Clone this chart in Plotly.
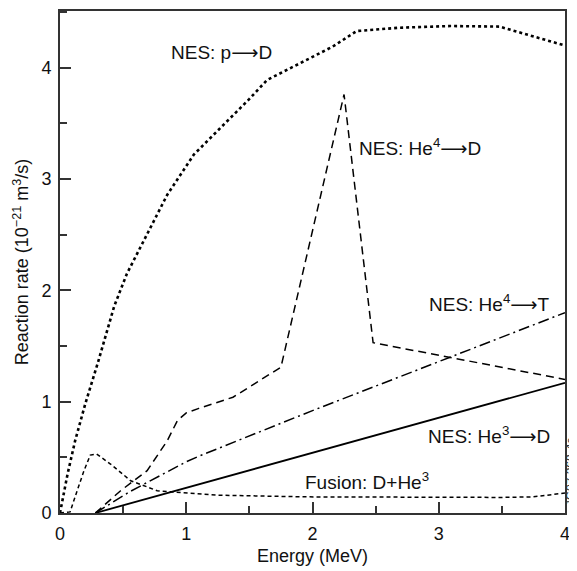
import plotly.graph_objects as go

# p -> D (dotted)
pD_x = [0, 0.06, 0.12, 0.2, 0.3, 0.43, 0.53, 0.69, 0.85, 1.06, 1.32, 1.5, 1.64, 1.9, 2.16, 2.35, 2.69, 3.09, 3.48, 4.0]
pD_y = [0, 0.35, 0.65, 0.98, 1.35, 1.86, 2.15, 2.5, 2.86, 3.22, 3.51, 3.72, 3.89, 4.04, 4.19, 4.33, 4.36, 4.375, 4.37, 4.2]

# He4 -> D (long dash)
he4D_x = [0.28, 0.48, 0.69, 0.85, 0.93, 1.0, 1.1, 1.37, 1.75, 2.25, 2.48, 4.0]
he4D_y = [0.0, 0.2, 0.38, 0.65, 0.83, 0.9, 0.94, 1.04, 1.31, 3.76, 1.53, 1.2]

# He4 -> T (dash-dot)
he4T_x = [0.28, 0.55, 1.0, 1.1, 2.0, 2.69, 3.0, 4.0]
he4T_y = [0.0, 0.19, 0.46, 0.51, 0.92, 1.22, 1.36, 1.8]

# He3 -> D (solid)
he3D_x = [0.28, 4.0]
he3D_y = [0.0, 1.17]

# Fusion D+He3 (short dash)
fus_x = [0, 0.08, 0.13, 0.19, 0.24, 0.29, 0.4, 0.56, 0.77, 1.03, 1.25, 1.94, 2.69, 3.5, 3.75, 4.0]
fus_y = [0, 0.01, 0.18, 0.38, 0.52, 0.53, 0.44, 0.29, 0.2, 0.18, 0.16, 0.145, 0.14, 0.14, 0.145, 0.18]

ARROW = '<span style="font-family:DejaVu Sans">⟶</span>'
labels = ["NES: p" + ARROW + "D", "NES: He<sup>4</sup>" + ARROW + "D", "NES: He<sup>4</sup>" + ARROW + "T",
          "NES: He<sup>3</sup>" + ARROW + "D", "Fusion: D+He<sup>3</sup>"]
label_x = [1.28, 2.85, 3.40, 3.40, 2.43]
label_y = [4.14, 3.29, 1.89, 0.70, 0.29]

x_ticks = [0, 1, 2, 3, 4]
y_ticks = [0, 1, 2, 3, 4]

FONT = "Liberation Sans, Arial"
fig = go.Figure()
black = "#000000"
fig.add_trace(go.Scatter(x=pD_x, y=pD_y, mode="lines",
                         line=dict(color=black, width=2.6, dash="dot")))
fig.add_trace(go.Scatter(x=he4D_x, y=he4D_y, mode="lines",
                         line=dict(color=black, width=1.5, dash="8px,5px")))
fig.add_trace(go.Scatter(x=he4T_x, y=he4T_y, mode="lines",
                         line=dict(color=black, width=1.5, dash="11px,4px,2px,4px")))
fig.add_trace(go.Scatter(x=he3D_x, y=he3D_y, mode="lines",
                         line=dict(color=black, width=1.8)))
fig.add_trace(go.Scatter(x=fus_x, y=fus_y, mode="lines",
                         line=dict(color=black, width=1.5, dash="4px,3px")))

for t, x, y in zip(labels, label_x, label_y):
    fig.add_annotation(x=x, y=y, text=t, showarrow=False,
                       font=dict(size=19, color="#111", family=FONT))

fig.add_annotation(xref="paper", yref="paper", x=1.0119, y=0.081,
                   text="JG07.268-4c", showarrow=False, textangle=-90,
                   xanchor="center", yanchor="middle",
                   font=dict(size=12, color="#333", family=FONT))

axis_common = dict(showgrid=False, zeroline=False, showline=True, linecolor="#333",
                   linewidth=2, mirror=True, ticks="inside", ticklen=11, tickwidth=1.5,
                   tickcolor="#333", ticklabelstandoff=3,
                   tickfont=dict(size=18, color="#111", family=FONT),
                   minor=dict(ticks="inside", ticklen=7, tickwidth=1.5, tickcolor="#333", dtick=0.5))

fig.update_xaxes(range=[0, 4], tickvals=x_ticks, ticktext=[str(v) for v in x_ticks],
                 title=dict(text="Energy (MeV)", standoff=7,
                            font=dict(size=18, color="#111", family=FONT)),
                 **axis_common)
fig.update_yaxes(range=[0, 4.51], tickvals=y_ticks, ticktext=[str(v) for v in y_ticks],
                 title=dict(text="Reaction rate (10<sup>−21</sup> m<sup>3</sup>/s)", standoff=8,
                            font=dict(size=18, color="#111", family=FONT)),
                 **axis_common)

fig.update_layout(width=569, height=563, showlegend=False,
                  plot_bgcolor="white", paper_bgcolor="white",
                  margin=dict(l=52, r=12, t=1, b=58))

fig.write_html("out.html")
